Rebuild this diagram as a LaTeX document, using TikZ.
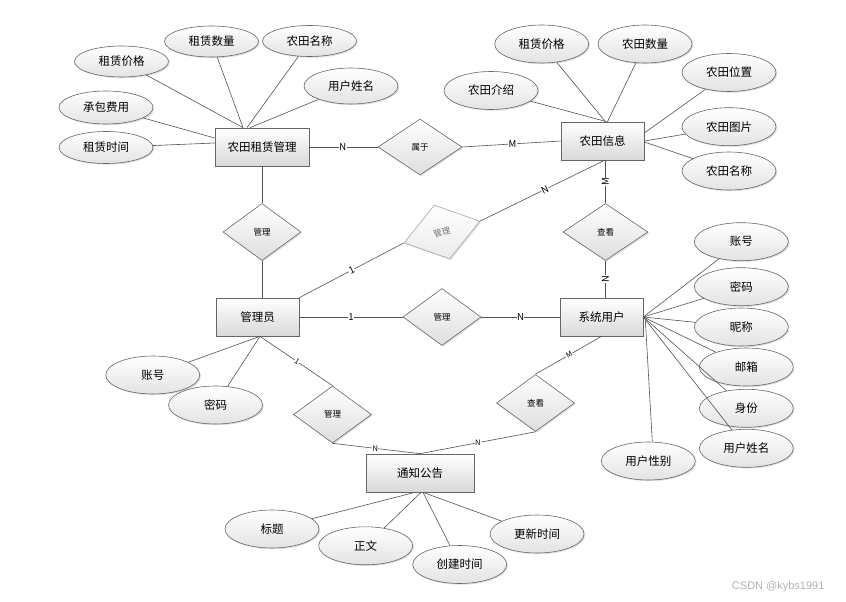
\documentclass[tikz,border=0pt]{standalone}
\usepackage{fontspec}
\setmainfont{Noto Sans CJK SC}
\newfontfamily\wmfont{Liberation Sans}
\usetikzlibrary{shapes.geometric,shadows}
\begin{document}
\begin{tikzpicture}[x=1pt,y=-1pt,
  shd/.style={drop shadow={opacity=0.25,shadow xshift=1.2pt,shadow yshift=-1.2pt}},
  ent/.style={draw=black!60,line width=0.7pt,top color=white,bottom color=black!15,minimum height=38pt,inner sep=0pt,font=\fontsize{11.5}{13}\selectfont,shd},
  attr/.style={ellipse,draw=black!60,line width=0.6pt,top color=white,bottom color=black!11,inner sep=0pt,minimum width=94pt,minimum height=37pt,font=\fontsize{11.5}{13}\selectfont,shd},
  rel/.style={diamond,draw=black!60,line width=0.6pt,top color=white,bottom color=black!13,inner sep=0pt,minimum width=78pt,minimum height=57pt,font=\fontsize{8.5}{10}\selectfont,shd},
  ln/.style={draw=black!68,line width=0.6pt},
  card/.style={fill=white,inner sep=0.4pt,font=\fontsize{9.5}{10}\selectfont},
  cards/.style={fill=white,inner sep=0.3pt,font=\fontsize{7.5}{8}\selectfont}
]
\useasboundingbox (0,0) rectangle (846,602);
\fill[white] (0,0) rectangle (846,602);

% entities
\node[ent,minimum width=94pt] (A) at (262,147) {农田租赁管理};
\node[ent,minimum width=83pt] (B) at (602.5,141) {农田信息};
\node[ent,minimum width=83pt] (M) at (257.5,317) {管理员};
\node[ent,minimum width=83pt] (U) at (601.5,317) {系统用户};
\node[ent,minimum width=108pt] (T) at (420,473) {通知公告};

% relationships
\node[rel,minimum width=84pt,minimum height=56pt] (sy) at (420,147) {属于};
\node[rel] (gl1) at (262,232) {管理};
\node[rel,draw=black!35,bottom color=black!8,text=black!55,rotate=16,minimum width=79pt,minimum height=56pt] (gd) at (442,232) {管理};
\node[rel,minimum width=85pt] (ck1) at (605.5,232) {查看};
\node[rel] (gl2) at (442,317) {管理};
\node[rel] (gl3) at (332.5,414.5) {管理};
\node[rel] (ck2) at (535.5,403) {查看};

% attributes of A
\node[attr,minimum height=31pt] (a1) at (121.5,61.5) {租赁价格};
\node[attr,minimum height=31pt] (a2) at (211.5,41.5) {租赁数量};
\node[attr,minimum height=31pt] (a3) at (309.5,41) {农田名称};
\node[attr,minimum height=36pt] (a4) at (351,86) {用户姓名};
\node[attr,minimum height=33pt] (a5) at (106,107.5) {承包费用};
\node[attr,minimum height=32pt] (a6) at (106,147.5) {租赁时间};
\draw[ln] (a1) -- ([xshift=-19pt]A.north);
\draw[ln] (a2) -- ([xshift=-19pt]A.north);
\draw[ln] (a3) -- ([xshift=-15pt]A.north);
\draw[ln] (a4) -- ([xshift=-12pt]A.north);
\draw[ln] (a5) -- ([yshift=9pt]A.west);
\draw[ln] (a6) -- ([yshift=4pt]A.west);

% attributes of B
\node[attr,minimum height=38pt] (b1) at (491,90.5) {农田介绍};
\node[attr,minimum height=38pt] (b2) at (541.7,44) {租赁价格};
\node[attr,minimum height=38pt] (b3) at (645,44) {农田数量};
\node[attr,minimum height=38pt] (b4) at (729,72.5) {农田位置};
\node[attr,minimum height=38pt] (b5) at (729,126.7) {农田图片};
\node[attr,minimum height=38pt] (b6) at (729,171) {农田名称};
\draw[ln] (b1) -- ([xshift=4pt]B.north);
\draw[ln] (b2) -- ([xshift=3pt]B.north);
\draw[ln] (b3) -- ([xshift=5pt]B.north);
\draw[ln] (b4) -- ([yshift=8pt]B.east);
\draw[ln] (b5) -- (B.east);
\draw[ln] (b6) -- ([yshift=-1pt]B.east);

% attributes of U
\node[attr,minimum height=38pt] (u1) at (741.3,241.7) {账号};
\node[attr,minimum height=38pt] (u2) at (741.3,286.7) {密码};
\node[attr,minimum height=38pt] (u3) at (741.3,327) {昵称};
\node[attr,minimum height=38pt] (u4) at (746.3,367) {邮箱};
\node[attr,minimum height=38pt] (u5) at (746.3,408.3) {身份};
\node[attr,minimum height=38pt] (u6) at (746.3,448.3) {用户姓名};
\node[attr,minimum height=38pt] (u7) at (648.3,461) {用户性别};
\foreach \i in {1,...,6} {\draw[ln] (u\i) -- (U.east);}
\draw[ln] (u7.north) ++(4pt,0) -- ([xshift=2pt,yshift=-3pt]U.east);

% attributes of M
\node[attr,minimum height=38pt] (m1) at (152.8,375) {账号};
\node[attr,minimum height=38pt] (m2) at (215.5,405) {密码};
\coordinate (Mb) at ([xshift=2.5pt]M.south);
\draw[ln] (m1) -- (Mb);
\draw[ln] (m2) -- (Mb);

% attributes of T
\node[attr,minimum height=38pt] (t1) at (272,529) {标题};
\node[attr,minimum height=38pt] (t2) at (365.7,545.8) {正文};
\node[attr,minimum height=38pt] (t3) at (459.7,564.5) {创建时间};
\node[attr,minimum height=38pt] (t4) at (537,534) {更新时间};
\draw[ln] (t1) -- ([xshift=-5pt]T.south);
\draw[ln] (t2) -- ([xshift=1pt]T.south);
\draw[ln] (t3) -- ([xshift=3pt]T.south);
\draw[ln] (t4) -- ([xshift=3pt]T.south);

% relationship connectors
\draw[ln] (A.east) -- node[card,pos=0.49] {N} (sy.west);
\draw[ln] (sy.east) -- node[card,pos=0.51] {M} (B.west);
\draw[ln] (ck1.north |- B.south) -- node[card,pos=0.5,rotate=90] {M} (ck1.north);
\draw[ln] (ck1.south) -- node[card,pos=0.49,rotate=90] {N} (ck1.south |- U.north);
\draw[ln] (A.south) -- (gl1.north);
\draw[ln] (gl1.south) -- (gl1.south |- M.north);
\draw[ln] (M.north east) -- node[card,pos=0.5,sloped] {1} (gd.west);
\draw[ln] (gd.east) -- node[card,pos=0.52,sloped] {N} ([xshift=2pt]B.south);
\draw[ln] (M.east) -- node[card,pos=0.5] {1} (gl2.west);
\draw[ln] (gl2.east) -- node[card,pos=0.5] {N} (U.west);
\draw[ln] (Mb) -- node[cards,pos=0.51,sloped] {1} (gl3.north);
\draw[ln] (gl3.south) -- node[cards,pos=0.49] {N} (T.north);
\draw[ln] (ck2.south) -- node[cards,pos=0.5] {N} (T.north);
\draw[ln] (U.south) -- node[cards,pos=0.49,sloped] {M} (ck2.north);

% watermark
\node[text=black!30,font=\wmfont\fontsize{11}{12}\selectfont,anchor=east] (wm) at (828,587) {CSDN @kybs1991};
\end{tikzpicture}
\end{document}
